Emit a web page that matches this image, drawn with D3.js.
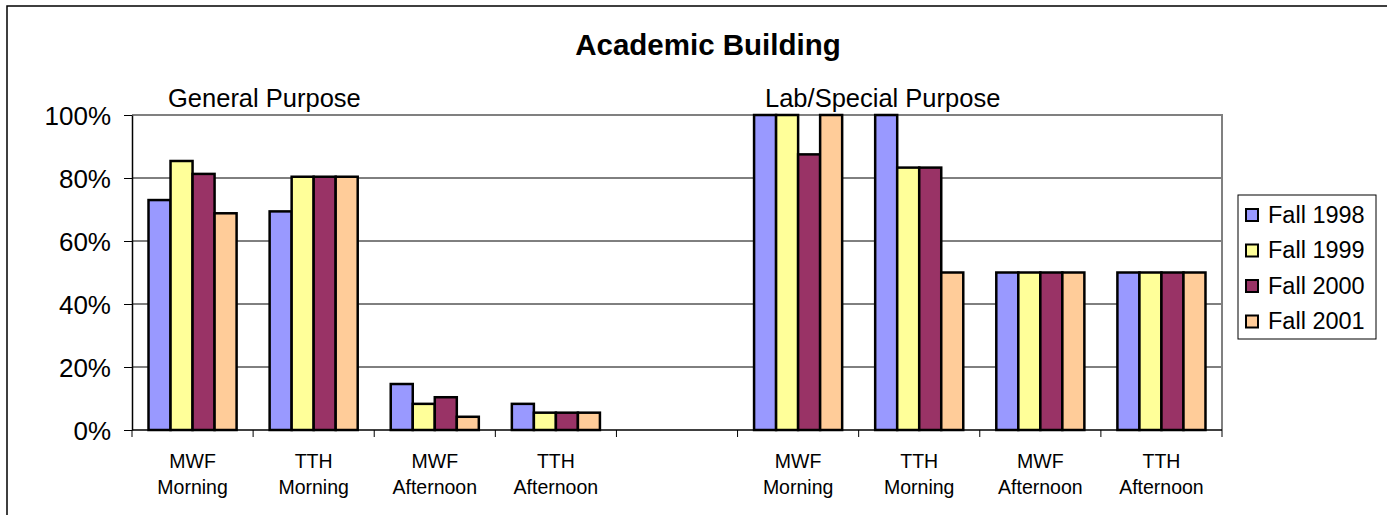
<html>
<head>
<title>Academic Building</title>
<script src="https://d3js.org/d3.v7.min.js"></script>
<style>
  body { margin: 0; background: white; }
  text { font-family: "Liberation Sans", Arial, sans-serif; fill: #000; }
  .grid line { stroke: #000; stroke-width: 1px; }
  .bar { stroke: #000; stroke-width: 2.5px; }
</style>
</head>
<body>
<svg id="chart" width="1387" height="515"></svg>
<script>
  // categories (the "" slot is the empty gap between the two groups)
  const categories = ["GP-MWF-AM", "GP-TTH-AM", "GP-MWF-PM", "GP-TTH-PM", "", "LS-MWF-AM", "LS-TTH-AM", "LS-MWF-PM", "LS-TTH-PM"];
  const catLine1 = ["MWF", "TTH", "MWF", "TTH", "", "MWF", "TTH", "MWF", "TTH"];
  const catLine2 = ["Morning", "Morning", "Afternoon", "Afternoon", "", "Morning", "Morning", "Afternoon", "Afternoon"];
  const groups = ["General Purpose", "Lab/Special Purpose"];

  const seriesNames = ["Fall 1998", "Fall 1999", "Fall 2000", "Fall 2001"];
  const fall1998 = [73, 69.4, 14.6, 8.3, null, 100, 100, 50, 50];
  const fall1999 = [85.4, 80.4, 8.3, 5.5, null, 100, 83.3, 50, 50];
  const fall2000 = [81.3, 80.4, 10.4, 5.5, null, 87.5, 83.3, 50, 50];
  const fall2001 = [68.8, 80.4, 4.2, 5.5, null, 100, 50, 50, 50];
  const colors = ["#9999FF", "#FFFF99", "#993366", "#FFCC99"];
  const yTicks = [0, 20, 40, 60, 80, 100];

  const allSeries = [fall1998, fall1999, fall2000, fall2001];

  const svg = d3.select("#chart");
  const plot = { left: 132, right: 1222, top: 115, bottom: 430 };

  // outer chart frame (cut off at right/bottom like the picture)
  svg.append("rect")
    .attr("x", 7).attr("y", 6)
    .attr("width", 1400).attr("height", 520)
    .attr("fill", "none").attr("stroke", "#000").attr("stroke-width", 1.5);

  const x = d3.scaleBand().domain(categories).range([plot.left, plot.right]);
  const x1 = d3.scaleBand().domain(seriesNames).range([0, x.bandwidth()]).paddingOuter(0.75);
  const y = d3.scaleLinear().domain([0, 100]).range([plot.bottom, plot.top]);

  // gridlines
  svg.append("g").attr("class", "grid")
    .selectAll("line").data(yTicks.filter(t => t > 0 && t < 100))
    .join("line")
    .attr("x1", plot.left).attr("x2", plot.right)
    .attr("y1", d => y(d)).attr("y2", d => y(d));

  // plot area border (grey top/right)
  svg.append("path")
    .attr("d", `M${plot.left},${plot.top}H${plot.right}V${plot.bottom}`)
    .attr("fill", "none").attr("stroke", "#808080").attr("stroke-width", 2);

  // bars
  const rows = categories.map((c, i) => ({ cat: c, vals: allSeries.map((s, j) => ({ name: seriesNames[j], v: s[i], k: j })) }));
  svg.append("g").selectAll("g").data(rows).join("g")
    .attr("transform", d => `translate(${x(d.cat)},0)`)
    .selectAll("rect").data(d => d.vals.filter(v => v.v != null)).join("rect")
    .attr("class", "bar")
    .attr("x", d => x1(d.name))
    .attr("width", x1.bandwidth())
    .attr("y", d => y(d.v))
    .attr("height", d => y(0) - y(d.v))
    .attr("fill", d => colors[d.k]);

  // y axis
  const yAxis = svg.append("g").attr("transform", `translate(${plot.left},0)`)
    .call(d3.axisLeft(y).tickValues(yTicks).tickFormat(d => d + "%").tickSize(8).tickSizeOuter(0));
  yAxis.select(".domain").attr("stroke", "#000").attr("stroke-width", 1.5);
  yAxis.selectAll(".tick line").attr("stroke", "#000");
  yAxis.selectAll(".tick text")
    .attr("x", -21).attr("dy", "0.36em")
    .style("font-size", "26px").style("font-family", "'Liberation Sans', Arial, sans-serif").attr("fill", "#000");

  // x axis
  const xAxis = svg.append("g").attr("transform", `translate(0,${plot.bottom})`);
  xAxis.append("line").attr("x1", plot.left).attr("x2", plot.right)
    .attr("stroke", "#000").attr("stroke-width", 1.5);
  xAxis.selectAll("line.tk").data(categories.map(c => x(c)).concat([plot.right]))
    .join("line").attr("class", "tk")
    .attr("x1", d => d).attr("x2", d => d).attr("y1", 0).attr("y2", 7)
    .attr("stroke", "#000");
  const lbl = xAxis.selectAll("text").data(categories.map((c, i) => i).filter(i => categories[i] !== ""))
    .join("text")
    .attr("text-anchor", "middle")
    .style("font-size", "19.5px");
  lbl.append("tspan").attr("x", i => x(categories[i]) + x.bandwidth() / 2).attr("y", 38).text(i => catLine1[i]);
  lbl.append("tspan").attr("x", i => x(categories[i]) + x.bandwidth() / 2).attr("y", 64).text(i => catLine2[i]);

  // title and group labels
  svg.append("text").attr("x", 708).attr("y", 55).attr("text-anchor", "middle")
    .style("font-size", "29.5px").style("font-weight", "bold").text("Academic Building");
  svg.append("text").attr("x", 168).attr("y", 107).style("font-size", "25.5px").text(groups[0]);
  svg.append("text").attr("x", 765).attr("y", 107).style("font-size", "25.5px").text(groups[1]);

  // legend
  const legend = svg.append("g");
  legend.append("rect").attr("x", 1238).attr("y", 195).attr("width", 138).attr("height", 144)
    .attr("fill", "white").attr("stroke", "#000").attr("stroke-width", 1);
  const li = legend.selectAll("g.li").data(seriesNames).join("g").attr("class", "li")
    .attr("transform", (d, i) => `translate(1246,${215 + i * 35.5})`);
  li.append("rect").attr("x", 0).attr("y", -6).attr("width", 12).attr("height", 12)
    .attr("fill", (d, i) => colors[i]).attr("stroke", "#000").attr("stroke-width", 2);
  li.append("text").attr("x", 22).attr("y", 7.5).style("font-size", "23.5px").text(d => d);
</script>
</body>
</html>
